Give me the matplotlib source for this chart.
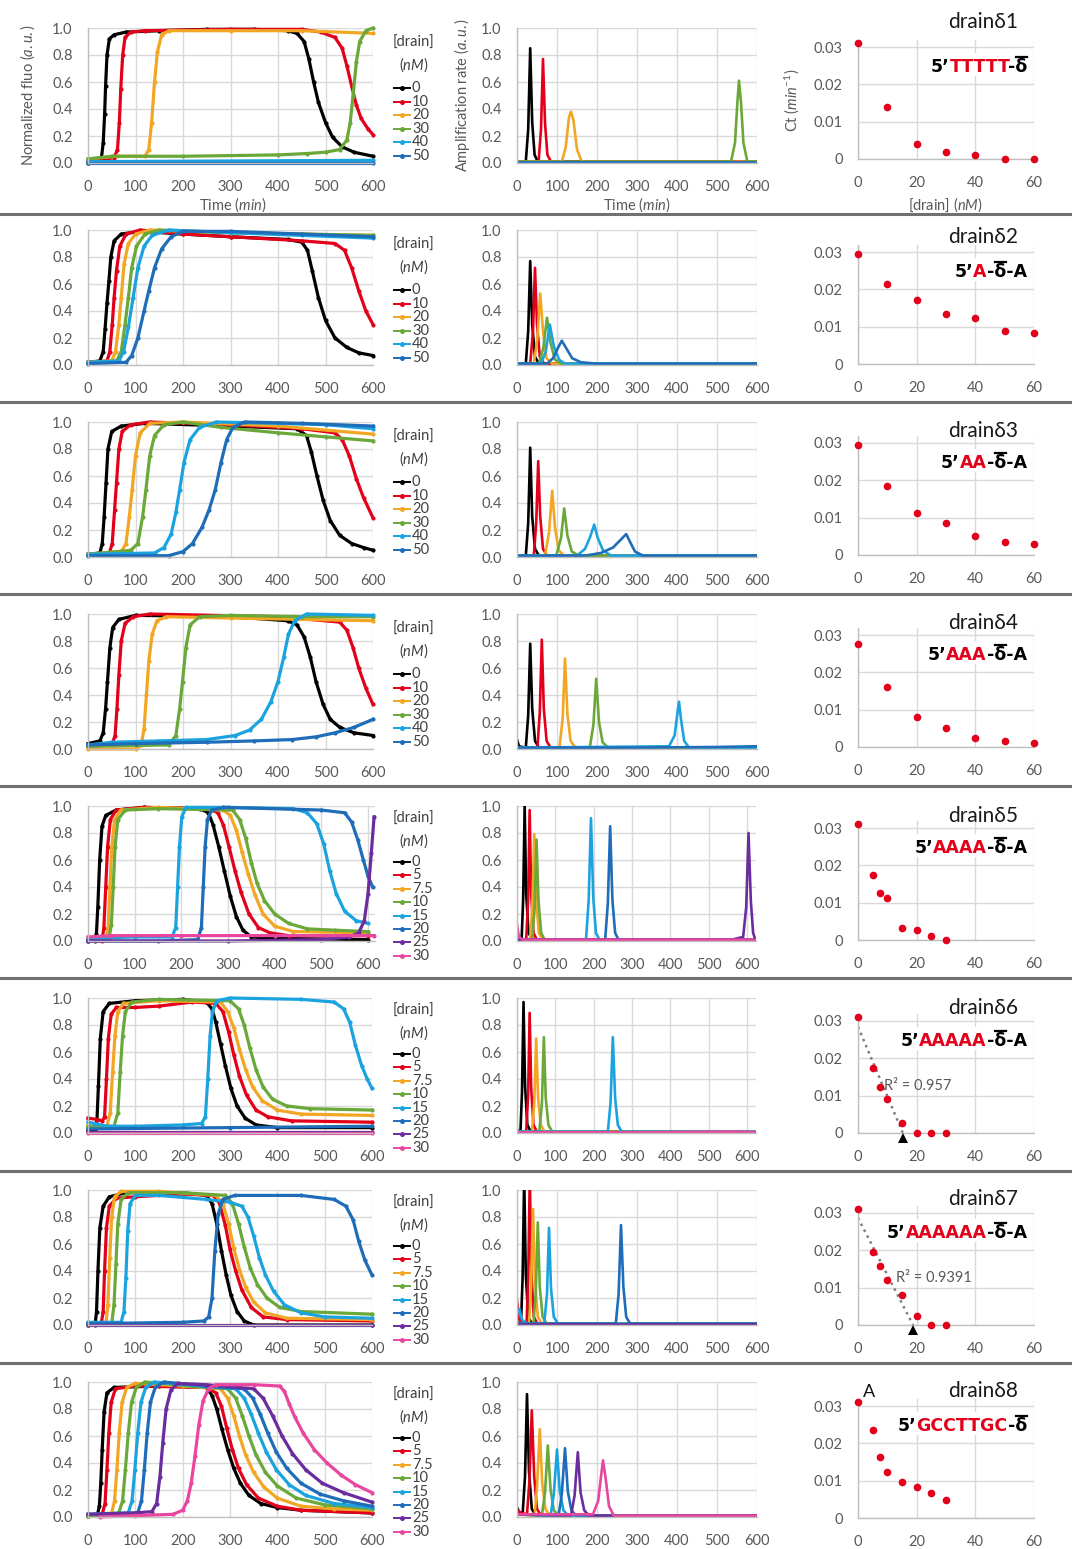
import numpy as np
import matplotlib
matplotlib.use('Agg')
import matplotlib.pyplot as plt
from matplotlib.lines import Line2D
from matplotlib.patches import Rectangle

plt.rcParams['font.family'] = ['Lato', 'DejaVu Sans']
plt.rcParams['mathtext.fontset'] = 'custom'
plt.rcParams['mathtext.rm'] = 'Lato'
plt.rcParams['mathtext.it'] = 'Lato:italic'

# ---------------- data ----------------
conc_6 = ['0', '10', '20', '30', '40', '50']
conc_8 = ['0', '5', '7.5', '10', '15', '20', '25', '30']
colors = ['#000000', '#E2001A', '#F2A623', '#6AA83A', '#1BA3E0', '#1F6DB8', '#6B2C9E', '#E9479F']

drain_names = ['drain\u03b41', 'drain\u03b42', 'drain\u03b43', 'drain\u03b44',
               'drain\u03b45', 'drain\u03b46', 'drain\u03b47', 'drain\u03b48']
# red part of each drain sequence, and whether it ends with "-A"
seq_red = ['TTTTT', 'A', 'AA', 'AAA', 'AAAA', 'AAAAA', 'AAAAAA', 'GCCTTGC']
seq_tail = [False, True, True, True, True, True, True, False]

# normalized fluorescence curves, (time, value) per concentration
fluo_d1 = [
    [(0, 0.0), (20, 0.01), (28, 0.03), (32, 0.15), (35, 0.36), (37, 0.57), (40, 0.8), (45, 0.92), (55, 0.95), (80, 0.97),
     (150, 0.98), (250, 0.99), (350, 0.99), (420, 0.98), (440, 0.96), (455, 0.9), (465, 0.77), (475, 0.6), (485, 0.45),
     (500, 0.3), (515, 0.19), (535, 0.12), (560, 0.08), (600, 0.05)],
    [(0, 0.02), (40, 0.03), (55, 0.04), (62, 0.1), (66, 0.3), (69, 0.55), (73, 0.8), (78, 0.93), (90, 0.97), (120, 0.98),
     (300, 0.99), (450, 0.99), (490, 0.97), (520, 0.93), (535, 0.85), (545, 0.72), (555, 0.57), (565, 0.43), (575, 0.33),
     (590, 0.25), (600, 0.21)],
    [(0, 0.03), (60, 0.05), (120, 0.05), (128, 0.1), (134, 0.3), (140, 0.6), (146, 0.82), (155, 0.95), (170, 0.98),
     (300, 0.98), (450, 0.98), (600, 0.96)],
    [(0, 0.03), (50, 0.05), (200, 0.05), (400, 0.06), (460, 0.07), (500, 0.08), (530, 0.1), (545, 0.17), (552, 0.3),
     (558, 0.5), (565, 0.75), (572, 0.9), (585, 0.98), (600, 1.0)],
    [(0, 0.01), (600, 0.02)],
    [(0, 0.0), (600, 0.0)],
]
fluo_d2 = [
    [(0, 0.02), (25, 0.03), (32, 0.1), (36, 0.27), (40, 0.46), (44, 0.62), (48, 0.8), (55, 0.92), (70, 0.97), (110, 0.99),
     (200, 0.97), (300, 0.95), (420, 0.93), (450, 0.91), (462, 0.85), (472, 0.7), (485, 0.5), (500, 0.33), (520, 0.2),
     (545, 0.13), (570, 0.09), (600, 0.07)],
    [(0, 0.02), (40, 0.03), (46, 0.1), (51, 0.3), (55, 0.5), (60, 0.7), (67, 0.88), (80, 0.97), (110, 1.0), (200, 0.97),
     (300, 0.95), (450, 0.92), (520, 0.9), (540, 0.85), (555, 0.72), (570, 0.55), (585, 0.4), (600, 0.3)],
    [(0, 0.02), (50, 0.03), (58, 0.1), (65, 0.3), (70, 0.5), (76, 0.75), (85, 0.9), (100, 0.97), (130, 1.0), (300, 0.98),
     (600, 0.96)],
    [(0, 0.02), (60, 0.03), (70, 0.1), (78, 0.3), (85, 0.5), (92, 0.72), (102, 0.88), (120, 0.97), (150, 1.0), (300, 0.98),
     (600, 0.96)],
    [(0, 0.02), (65, 0.03), (75, 0.1), (85, 0.28), (95, 0.5), (105, 0.72), (118, 0.88), (135, 0.96), (170, 1.0),
     (300, 0.98), (450, 0.96), (600, 0.94)],
    [(0, 0.01), (80, 0.02), (92, 0.07), (105, 0.2), (118, 0.4), (128, 0.55), (140, 0.72), (155, 0.86), (175, 0.95),
     (200, 0.99), (300, 0.99), (450, 0.97), (600, 0.95)],
]
fluo_d3 = [
    [(0, 0.02), (25, 0.03), (30, 0.1), (34, 0.3), (38, 0.55), (42, 0.8), (50, 0.93), (70, 0.97), (120, 0.99), (300, 0.97),
     (440, 0.95), (460, 0.9), (470, 0.78), (482, 0.6), (495, 0.42), (510, 0.27), (530, 0.16), (555, 0.1), (580, 0.07),
     (600, 0.05)],
    [(0, 0.02), (45, 0.03), (51, 0.1), (56, 0.35), (60, 0.55), (65, 0.8), (72, 0.93), (90, 0.98), (130, 1.0), (300, 0.98),
     (450, 0.95), (520, 0.92), (535, 0.87), (550, 0.75), (565, 0.58), (580, 0.44), (600, 0.29)],
    [(0, 0.02), (70, 0.04), (80, 0.1), (87, 0.3), (93, 0.5), (100, 0.75), (110, 0.92), (130, 0.99), (200, 1.0),
     (400, 0.97), (600, 0.91)],
    [(0, 0.02), (90, 0.05), (105, 0.1), (115, 0.3), (122, 0.5), (130, 0.75), (140, 0.9), (160, 0.98), (200, 1.0),
     (280, 0.96), (400, 0.92), (500, 0.89), (600, 0.86)],
    [(0, 0.02), (140, 0.03), (160, 0.07), (175, 0.17), (185, 0.33), (193, 0.5), (202, 0.7), (215, 0.87), (235, 0.96),
     (270, 1.0), (400, 0.99), (500, 0.98), (600, 0.95)],
    [(0, 0.01), (170, 0.01), (200, 0.04), (220, 0.1), (240, 0.22), (255, 0.35), (268, 0.5), (280, 0.7), (292, 0.87),
     (305, 0.96), (330, 1.0), (450, 0.99), (600, 0.97)],
]
fluo_d4 = [
    [(0, 0.04), (25, 0.06), (32, 0.12), (37, 0.3), (41, 0.5), (46, 0.75), (52, 0.9), (65, 0.96), (100, 0.99), (300, 0.98),
     (420, 0.95), (440, 0.92), (455, 0.83), (468, 0.68), (480, 0.5), (495, 0.33), (510, 0.22), (530, 0.16), (560, 0.12),
     (600, 0.1)],
    [(0, 0.02), (50, 0.03), (57, 0.1), (61, 0.3), (65, 0.55), (70, 0.8), (78, 0.93), (95, 0.98), (130, 1.0), (400, 0.98),
     (530, 0.94), (545, 0.88), (558, 0.75), (570, 0.6), (585, 0.45), (600, 0.33)],
    [(0, 0.0), (100, 0.0), (112, 0.03), (118, 0.15), (123, 0.4), (128, 0.65), (135, 0.85), (145, 0.95), (165, 0.98),
     (300, 0.97), (600, 0.95)],
    [(0, 0.02), (170, 0.03), (185, 0.1), (193, 0.3), (199, 0.5), (206, 0.75), (215, 0.92), (235, 0.98), (300, 0.99),
     (450, 0.98), (600, 0.98)],
    [(0, 0.03), (50, 0.05), (150, 0.06), (250, 0.07), (310, 0.1), (340, 0.14), (365, 0.22), (385, 0.35), (400, 0.5),
     (412, 0.68), (422, 0.85), (435, 0.95), (460, 1.0), (600, 0.99)],
    [(0, 0.03), (100, 0.04), (250, 0.05), (350, 0.06), (430, 0.07), (480, 0.09), (520, 0.12), (560, 0.16), (600, 0.22)],
]
fluo_d5 = [
    [(0, 0.0), (15, 0.0), (18, 0.05), (21, 0.25), (25, 0.6), (30, 0.85), (38, 0.93), (60, 0.97), (120, 0.99), (240, 0.98),
     (258, 0.95), (268, 0.86), (280, 0.7), (292, 0.52), (305, 0.33), (318, 0.18), (332, 0.08), (350, 0.03), (400, 0.02),
     (600, 0.01)],
    [(0, 0.0), (30, 0.0), (34, 0.1), (38, 0.4), (42, 0.7), (48, 0.9), (60, 0.97), (120, 0.99), (260, 0.98), (278, 0.95),
     (290, 0.86), (302, 0.7), (315, 0.52), (328, 0.36), (345, 0.2), (365, 0.1), (390, 0.06), (430, 0.04), (600, 0.04)],
    [(0, 0.0), (38, 0.01), (43, 0.1), (47, 0.4), (51, 0.7), (57, 0.9), (70, 0.97), (150, 0.99), (290, 0.97), (305, 0.93),
     (318, 0.82), (330, 0.66), (343, 0.5), (358, 0.34), (375, 0.2), (400, 0.11), (440, 0.07), (600, 0.06)],
    [(0, 0.0), (45, 0.02), (50, 0.12), (54, 0.4), (58, 0.7), (64, 0.9), (80, 0.97), (150, 0.98), (310, 0.97), (325, 0.9),
     (338, 0.76), (350, 0.58), (362, 0.43), (378, 0.3), (400, 0.2), (430, 0.13), (470, 0.09), (530, 0.08), (600, 0.07)],
    [(0, 0.02), (100, 0.03), (180, 0.03), (188, 0.1), (192, 0.4), (196, 0.7), (201, 0.92), (210, 0.99), (300, 0.99),
     (440, 0.98), (470, 0.95), (490, 0.87), (505, 0.72), (518, 0.52), (532, 0.35), (550, 0.22), (575, 0.15), (600, 0.13)],
    [(0, 0.0), (150, 0.0), (235, 0.01), (243, 0.1), (247, 0.4), (251, 0.7), (256, 0.9), (265, 0.97), (290, 0.99),
     (500, 0.97), (550, 0.95), (565, 0.88), (578, 0.75), (590, 0.6), (600, 0.48), (610, 0.4)],
    [(0, 0.0), (300, 0.0), (500, 0.01), (560, 0.03), (580, 0.06), (592, 0.15), (600, 0.35), (607, 0.65), (613, 0.92)],
    [(0, 0.03), (50, 0.04), (200, 0.04), (400, 0.04), (613, 0.04)],
]
fluo_d6 = [
    [(0, 0.02), (15, 0.02), (19, 0.1), (22, 0.35), (26, 0.7), (32, 0.9), (45, 0.96), (100, 0.98), (200, 0.99), (250, 0.97),
     (262, 0.92), (270, 0.82), (280, 0.66), (290, 0.5), (302, 0.33), (315, 0.2), (332, 0.11), (355, 0.06), (400, 0.04),
     (600, 0.04)],
    [(0, 0.11), (20, 0.1), (30, 0.09), (35, 0.12), (39, 0.4), (43, 0.7), (49, 0.88), (60, 0.93), (100, 0.93), (150, 0.94),
     (220, 0.97), (270, 0.96), (285, 0.9), (297, 0.75), (308, 0.58), (320, 0.42), (335, 0.28), (355, 0.17), (380, 0.12),
     (430, 0.09), (600, 0.08)],
    [(0, 0.05), (40, 0.05), (47, 0.15), (52, 0.45), (57, 0.72), (63, 0.9), (75, 0.96), (150, 0.98), (280, 0.97),
     (295, 0.9), (308, 0.78), (320, 0.62), (333, 0.47), (348, 0.34), (368, 0.24), (400, 0.17), (450, 0.14), (600, 0.13)],
    [(0, 0.05), (55, 0.05), (63, 0.15), (68, 0.45), (73, 0.72), (79, 0.9), (92, 0.97), (150, 0.99), (300, 0.98),
     (318, 0.92), (330, 0.8), (342, 0.63), (355, 0.47), (370, 0.34), (390, 0.25), (420, 0.2), (470, 0.18), (600, 0.17)],
    [(0, 0.08), (15, 0.07), (40, 0.05), (100, 0.05), (200, 0.06), (240, 0.07), (248, 0.12), (253, 0.4), (258, 0.72),
     (263, 0.9), (272, 0.98), (300, 1.0), (450, 0.99), (520, 0.97), (540, 0.92), (553, 0.82), (565, 0.65), (578, 0.5),
     (590, 0.4), (600, 0.33)],
    [(0, 0.03), (300, 0.04), (600, 0.05)],
    [(0, 0.01), (600, 0.01)],
    [(0, 0.0), (600, 0.0)],
]
fluo_d7 = [
    [(0, 0.0), (15, 0.0), (18, 0.1), (21, 0.4), (25, 0.72), (32, 0.88), (45, 0.95), (80, 0.98), (200, 0.98), (250, 0.96),
     (262, 0.9), (272, 0.75), (282, 0.55), (292, 0.37), (302, 0.22), (315, 0.1), (330, 0.03), (350, 0.0), (600, 0.0)],
    [(0, 0.0), (28, 0.01), (32, 0.1), (35, 0.4), (39, 0.72), (45, 0.88), (60, 0.94), (100, 0.95), (200, 0.97), (265, 0.96),
     (278, 0.9), (290, 0.74), (300, 0.56), (312, 0.4), (325, 0.26), (345, 0.13), (370, 0.06), (420, 0.04), (600, 0.03)],
    [(0, 0.0), (38, 0.01), (42, 0.15), (46, 0.5), (50, 0.8), (56, 0.95), (70, 0.99), (150, 0.99), (270, 0.96), (285, 0.9),
     (297, 0.75), (308, 0.57), (320, 0.41), (333, 0.28), (350, 0.17), (375, 0.09), (420, 0.05), (600, 0.04)],
    [(0, 0.0), (50, 0.01), (55, 0.15), (59, 0.45), (63, 0.75), (70, 0.93), (85, 0.98), (200, 0.98), (290, 0.96),
     (305, 0.9), (318, 0.75), (330, 0.58), (343, 0.42), (358, 0.3), (378, 0.2), (405, 0.13), (450, 0.1), (600, 0.08)],
    [(0, 0.02), (70, 0.02), (76, 0.1), (80, 0.35), (84, 0.7), (89, 0.9), (100, 0.96), (150, 0.96), (250, 0.93),
     (300, 0.91), (325, 0.88), (338, 0.8), (350, 0.66), (362, 0.5), (375, 0.37), (392, 0.25), (415, 0.15), (450, 0.09),
     (500, 0.06), (600, 0.05)],
    [(0, 0.01), (200, 0.02), (245, 0.03), (255, 0.06), (262, 0.2), (268, 0.55), (275, 0.82), (285, 0.93), (310, 0.96),
     (450, 0.96), (520, 0.93), (545, 0.88), (560, 0.78), (572, 0.62), (585, 0.48), (600, 0.37)],
    [(0, 0.0), (600, 0.0)],
    [],
]
fluo_d8 = [
    [(0, 0.01), (20, 0.02), (24, 0.08), (27, 0.25), (30, 0.5), (34, 0.78), (40, 0.92), (55, 0.96), (150, 0.97),
     (250, 0.96), (262, 0.9), (272, 0.8), (283, 0.65), (295, 0.5), (308, 0.36), (322, 0.25), (340, 0.16), (365, 0.1),
     (400, 0.07), (450, 0.05), (600, 0.03)],
    [(0, 0.01), (30, 0.02), (36, 0.1), (40, 0.35), (44, 0.62), (49, 0.85), (58, 0.95), (100, 0.97), (250, 0.96),
     (270, 0.92), (282, 0.82), (293, 0.66), (305, 0.5), (318, 0.36), (335, 0.24), (360, 0.14), (400, 0.08), (450, 0.05),
     (600, 0.03)],
    [(0, 0.01), (50, 0.03), (56, 0.12), (61, 0.35), (66, 0.62), (72, 0.85), (82, 0.96), (100, 0.99), (200, 0.97),
     (280, 0.95), (295, 0.88), (308, 0.75), (320, 0.6), (333, 0.46), (350, 0.33), (372, 0.22), (400, 0.14), (450, 0.08),
     (520, 0.06), (600, 0.05)],
    [(0, 0.01), (65, 0.03), (73, 0.12), (79, 0.35), (85, 0.62), (92, 0.85), (102, 0.96), (120, 1.0), (220, 0.97),
     (295, 0.95), (312, 0.88), (326, 0.75), (340, 0.6), (355, 0.46), (375, 0.33), (400, 0.23), (440, 0.14), (500, 0.09),
     (600, 0.06)],
    [(0, 0.02), (85, 0.03), (93, 0.12), (99, 0.35), (105, 0.62), (112, 0.85), (122, 0.96), (140, 1.0), (240, 0.97),
     (312, 0.95), (330, 0.88), (345, 0.76), (360, 0.62), (377, 0.48), (398, 0.35), (425, 0.24), (460, 0.16), (520, 0.1),
     (600, 0.07)],
    [(0, 0.02), (105, 0.03), (113, 0.12), (119, 0.35), (125, 0.62), (132, 0.85), (142, 0.96), (160, 1.0), (250, 0.97),
     (330, 0.95), (348, 0.88), (364, 0.76), (380, 0.62), (398, 0.48), (420, 0.36), (450, 0.25), (490, 0.17), (540, 0.12),
     (600, 0.08)],
    [(0, 0.02), (100, 0.03), (135, 0.04), (145, 0.1), (152, 0.3), (158, 0.55), (165, 0.8), (175, 0.94), (190, 0.99),
     (250, 0.98), (350, 0.95), (370, 0.88), (390, 0.75), (410, 0.6), (432, 0.47), (460, 0.35), (495, 0.25), (540, 0.18),
     (600, 0.11)],
    [(25, 0.0), (100, 0.01), (180, 0.02), (200, 0.05), (210, 0.12), (218, 0.25), (226, 0.45), (234, 0.68), (243, 0.86),
     (255, 0.95), (270, 0.98), (350, 0.98), (405, 0.97), (415, 0.93), (425, 0.84), (437, 0.74), (455, 0.62), (478, 0.5),
     (505, 0.4), (535, 0.31), (565, 0.24), (600, 0.18)],
]

# amplification rate curves, (time, value) per concentration
rate_d1 = [
    [(0, 0.01), (22, 0.01), (28, 0.25), (33, 0.85), (38, 0.3), (44, 0.06), (52, 0.01), (600, 0.01)],
    [(0, 0.01), (54, 0.01), (60, 0.25), (65, 0.77), (70, 0.3), (76, 0.06), (85, 0.01), (600, 0.01)],
    [(0, 0.01), (112, 0.01), (122, 0.12), (130, 0.34), (135, 0.38), (141, 0.32), (150, 0.1), (162, 0.01), (600, 0.01)],
    [(0, 0.01), (535, 0.01), (545, 0.15), (551, 0.45), (555, 0.61), (560, 0.45), (566, 0.15), (576, 0.01), (600, 0.01)],
    [(0, 0.005), (600, 0.005)],
    [(0, 0.005), (600, 0.005)],
]
rate_d2 = [
    [(0, 0.01), (22, 0.01), (28, 0.25), (33, 0.77), (38, 0.3), (45, 0.06), (55, 0.01), (600, 0.01)],
    [(0, 0.01), (33, 0.01), (40, 0.25), (45, 0.72), (50, 0.3), (57, 0.06), (68, 0.01), (600, 0.01)],
    [(0, 0.01), (42, 0.01), (51, 0.2), (58, 0.53), (65, 0.25), (74, 0.05), (88, 0.01), (600, 0.01)],
    [(0, 0.01), (55, 0.01), (66, 0.13), (75, 0.35), (84, 0.16), (95, 0.04), (110, 0.01), (600, 0.01)],
    [(0, 0.01), (60, 0.01), (72, 0.1), (82, 0.3), (92, 0.14), (105, 0.04), (120, 0.01), (600, 0.01)],
    [(0, 0.01), (75, 0.01), (90, 0.05), (103, 0.13), (112, 0.18), (122, 0.13), (138, 0.05), (160, 0.02), (200, 0.01),
     (600, 0.01)],
]
rate_d3 = [
    [(0, 0.01), (22, 0.01), (28, 0.25), (33, 0.81), (38, 0.3), (45, 0.06), (55, 0.01), (600, 0.01)],
    [(0, 0.01), (42, 0.01), (48, 0.25), (53, 0.71), (58, 0.3), (65, 0.06), (75, 0.01), (600, 0.01)],
    [(0, 0.01), (70, 0.01), (80, 0.18), (88, 0.49), (95, 0.22), (104, 0.05), (118, 0.01), (600, 0.01)],
    [(0, 0.01), (98, 0.01), (110, 0.14), (118, 0.36), (126, 0.16), (137, 0.04), (155, 0.01), (600, 0.01)],
    [(0, 0.01), (150, 0.01), (170, 0.06), (183, 0.15), (193, 0.24), (202, 0.14), (215, 0.05), (235, 0.01), (600, 0.01)],
    [(0, 0.01), (170, 0.01), (210, 0.03), (240, 0.07), (260, 0.13), (273, 0.17), (283, 0.11), (295, 0.04), (315, 0.01),
     (600, 0.01)],
]
rate_d4 = [
    [(0, 0.07), (5, 0.02), (22, 0.01), (28, 0.25), (33, 0.78), (38, 0.3), (45, 0.06), (55, 0.01), (600, 0.01)],
    [(0, 0.01), (51, 0.01), (57, 0.27), (62, 0.81), (67, 0.3), (74, 0.06), (84, 0.01), (600, 0.01)],
    [(0, 0.01), (106, 0.01), (114, 0.22), (120, 0.67), (126, 0.26), (134, 0.06), (146, 0.01), (600, 0.01)],
    [(0, 0.01), (182, 0.01), (191, 0.18), (198, 0.52), (205, 0.2), (214, 0.05), (228, 0.01), (600, 0.01)],
    [(0, 0.01), (380, 0.02), (394, 0.1), (400, 0.24), (405, 0.35), (410, 0.22), (418, 0.06), (430, 0.01), (600, 0.01)],
    [(0, 0.01), (300, 0.01), (500, 0.015), (600, 0.02)],
]
rate_d5 = [
    [(0, 0.02), (12, 0.01), (16, 0.3), (20, 1.0), (24, 0.35), (30, 0.06), (40, 0.01), (620, 0.01)],
    [(0, 0.01), (24, 0.01), (29, 0.3), (33, 0.97), (37, 0.35), (43, 0.06), (52, 0.01), (620, 0.01)],
    [(0, 0.01), (34, 0.01), (40, 0.25), (45, 0.79), (50, 0.3), (57, 0.06), (66, 0.01), (620, 0.01)],
    [(0, 0.01), (40, 0.01), (46, 0.25), (51, 0.75), (56, 0.3), (63, 0.06), (72, 0.01), (620, 0.01)],
    [(0, 0.01), (180, 0.01), (187, 0.3), (193, 0.91), (199, 0.32), (206, 0.06), (215, 0.01), (620, 0.01)],
    [(0, 0.01), (230, 0.01), (237, 0.28), (243, 0.85), (249, 0.3), (256, 0.06), (265, 0.01), (620, 0.01)],
    [(0, 0.01), (560, 0.01), (590, 0.03), (598, 0.25), (604, 0.8), (610, 0.3), (616, 0.06), (622, 0.01)],
    [(0, 0.12), (5, 0.03), (15, 0.01), (620, 0.01)],
]
rate_d6 = [
    [(0, 0.02), (9, 0.01), (13, 0.3), (17, 0.97), (21, 0.35), (27, 0.06), (36, 0.01), (620, 0.01)],
    [(0, 0.01), (24, 0.01), (29, 0.28), (33, 0.89), (37, 0.33), (43, 0.06), (52, 0.01), (620, 0.01)],
    [(0, 0.01), (39, 0.01), (45, 0.22), (50, 0.7), (55, 0.26), (62, 0.06), (72, 0.01), (620, 0.01)],
    [(0, 0.01), (58, 0.01), (65, 0.22), (70, 0.71), (75, 0.26), (82, 0.06), (92, 0.01), (620, 0.01)],
    [(0, 0.01), (237, 0.01), (244, 0.22), (250, 0.71), (256, 0.26), (263, 0.06), (273, 0.01), (620, 0.01)],
    [(0, 0.01), (620, 0.01)],
    [(0, 0.005), (620, 0.005)],
    [(0, 0.005), (300, 0.005), (580, 0.01), (620, 0.005)],
]
rate_d7 = [
    [(0, 0.02), (10, 0.01), (14, 0.35), (18, 1.1), (22, 0.38), (28, 0.06), (37, 0.01), (600, 0.01)],
    [(0, 0.18), (4, 0.05), (10, 0.02), (24, 0.01), (28, 0.35), (32, 1.1), (36, 0.38), (42, 0.06), (51, 0.01), (600, 0.01)],
    [(0, 0.01), (30, 0.01), (35, 0.28), (40, 0.86), (45, 0.32), (52, 0.06), (62, 0.01), (600, 0.01)],
    [(0, 0.01), (41, 0.01), (47, 0.24), (52, 0.76), (57, 0.28), (64, 0.06), (74, 0.01), (600, 0.01)],
    [(0, 0.08), (6, 0.12), (12, 0.04), (25, 0.01), (68, 0.01), (75, 0.23), (80, 0.72), (85, 0.27), (92, 0.06), (102, 0.01),
     (600, 0.01)],
    [(0, 0.01), (247, 0.01), (254, 0.23), (260, 0.74), (266, 0.28), (273, 0.06), (283, 0.01), (600, 0.01)],
    [(0, 0.005), (600, 0.005)],
    [],
]
rate_d8 = [
    [(0, 0.07), (5, 0.04), (14, 0.02), (20, 0.3), (25, 0.91), (30, 0.34), (37, 0.06), (47, 0.01), (600, 0.01)],
    [(0, 0.05), (10, 0.03), (25, 0.02), (31, 0.26), (37, 0.79), (43, 0.3), (50, 0.06), (60, 0.01), (600, 0.01)],
    [(0, 0.02), (44, 0.01), (50, 0.22), (57, 0.65), (63, 0.25), (71, 0.06), (82, 0.01), (600, 0.01)],
    [(0, 0.02), (62, 0.01), (70, 0.18), (77, 0.53), (84, 0.2), (92, 0.05), (104, 0.01), (600, 0.01)],
    [(0, 0.02), (84, 0.01), (92, 0.17), (100, 0.5), (107, 0.19), (116, 0.05), (128, 0.01), (600, 0.01)],
    [(0, 0.02), (104, 0.01), (112, 0.17), (120, 0.51), (127, 0.19), (136, 0.05), (148, 0.01), (600, 0.01)],
    [(0, 0.02), (135, 0.01), (144, 0.16), (152, 0.48), (159, 0.18), (168, 0.05), (180, 0.01), (600, 0.01)],
    [(0, 0.02), (190, 0.02), (203, 0.12), (210, 0.3), (215, 0.42), (221, 0.3), (230, 0.08), (242, 0.01), (600, 0.01)],
]

# Ct vs [drain]
ct_x_6 = [0, 10, 20, 30, 40, 50, 60]
ct_x_8 = [0, 5, 7.5, 10, 15, 20, 25, 30]
ct_d1 = [0.031, 0.014, 0.004, 0.0018, 0.001, 0.0, 0.0]
ct_d2 = [0.0295, 0.0215, 0.0172, 0.0133, 0.0122, 0.0088, 0.0083]
ct_d3 = [0.0295, 0.0185, 0.0112, 0.0085, 0.0051, 0.0035, 0.003]
ct_d4 = [0.0277, 0.016, 0.008, 0.005, 0.0023, 0.0015, 0.001]
ct_d5 = [0.031, 0.0175, 0.0125, 0.0113, 0.0033, 0.0027, 0.0012, 0.0]
ct_d6 = [0.031, 0.0175, 0.0122, 0.009, 0.0028, 0.0, 0.0, 0.0]
ct_d7 = [0.031, 0.0195, 0.0157, 0.012, 0.008, 0.0025, 0.0, 0.0]
ct_d8 = [0.031, 0.0235, 0.0163, 0.0122, 0.0097, 0.0083, 0.0066, 0.0047]
# linear fits shown on drainδ6 / drainδ7 (first five points): R² text and where it starts
fit_rows = {5: ('0.957', 9.0), 6: ('0.9391', 12.8)}

fluo = [fluo_d1, fluo_d2, fluo_d3, fluo_d4, fluo_d5, fluo_d6, fluo_d7, fluo_d8]
rate = [rate_d1, rate_d2, rate_d3, rate_d4, rate_d5, rate_d6, rate_d7, rate_d8]
ct = [ct_d1, ct_d2, ct_d3, ct_d4, ct_d5, ct_d6, ct_d7, ct_d8]

# ---------------- layout (pixels) ----------------
W, H = 1072, 1549
row_top = [28, 230, 422, 614, 806, 998, 1190, 1382]
row_h = 135
c1_xmax = [600, 600, 600, 600, 615, 600, 600, 600]
c1_scale = [0.475, 0.475, 0.475, 0.475, 0.4667, 0.4733, 0.4733, 0.4733]
c2_xmax = [600, 600, 600, 600, 623, 623, 600, 600]
c2_scale = [0.4, 0.4, 0.4, 0.4, 0.3833, 0.3833, 0.4, 0.4]
c3_zero = [159, 364, 555, 747, 940, 1133, 1325, 1518]
title_y = [22, 237, 431, 623, 816, 1008, 1199, 1391]
seps = [214, 402, 594, 786, 978, 1171, 1363]

grid_c = '#D9D9D9'
tick_c = '#595959'
dot_red = '#E2001A'
seq_font = dict(fontsize=12.5, fontweight='bold', family='DejaVu Sans')


def fx(x):
    return x / W


def fy(y):
    return 1 - y / H


def style(ax, xt, yt, ylabels):
    for s in ['top', 'right']:
        ax.spines[s].set_visible(False)
    for s in ['left', 'bottom']:
        ax.spines[s].set_color('#BFBFBF')
        ax.spines[s].set_linewidth(1.0)
    ax.set_xticks(xt)
    ax.set_yticks(yt)
    ax.set_yticklabels(ylabels)
    ax.grid(True, color=grid_c, lw=1.0)
    ax.set_axisbelow(True)
    ax.tick_params(length=0, labelsize=10.5, colors=tick_c)
    ax.tick_params(axis='x', pad=12)
    ax.tick_params(axis='y', pad=11)


fig = plt.figure(figsize=(W / 100, H / 100), dpi=100)
renderer = fig.canvas.get_renderer()


def text_w(s):
    t = fig.text(0, 0, s, **seq_font)
    w = t.get_window_extent(renderer=renderer).width
    t.remove()
    return w


def seq_label(x_right, y_base, red, tail):
    # black "5’", red bases, black "-δ̄(-A)", measured so the pieces join like one string
    pre = '5\u2019'
    rest = '-\u03b4' + ('-A' if tail else '')
    x0 = x_right - text_w(pre + red + rest)
    # one white box behind the whole label (it hides gridlines like in the original)
    fig.add_artist(Rectangle((fx(x0 - 3), fy(y_base + 4)), (x_right - x0 + 6) / W, 23 / H,
                             transform=fig.transFigure, fc='white', ec='none', zorder=2.5))
    fig.text(fx(x0), fy(y_base), pre, ha='left', va='baseline', color='black', zorder=3, **seq_font)
    red_left = x0 + text_w(pre + red) - text_w(red)
    fig.text(fx(red_left), fy(y_base), red, ha='left', va='baseline', color=dot_red, zorder=3, **seq_font)
    fig.text(fx(x_right), fy(y_base), rest, ha='right', va='baseline', color='black', zorder=3, **seq_font)
    d_right = x0 + text_w(pre + red + '-\u03b4')
    d_left = d_right - text_w('\u03b4')
    yb = fy(y_base - 15.5)
    fig.add_artist(Line2D([fx(d_left + 0.5), fx(d_right - 0.5)], [yb, yb], color='black', lw=1.6, zorder=5))


for i in range(8):
    top = row_top[i]
    labels = conc_6 if i < 4 else conc_8

    # column 1: normalized fluorescence
    w1 = c1_xmax[i] * c1_scale[i]
    ax1 = fig.add_axes([fx(88), fy(top + row_h), w1 / W, row_h / H])
    for k, pts in enumerate(fluo[i]):
        if not pts:
            continue
        t, v = zip(*pts)
        ax1.plot(t, v, color=colors[k], lw=2.3, marker='o', ms=3, mew=0, clip_on=False, zorder=2 + k * 0.01)
    ax1.set_xlim(0, c1_xmax[i])
    ax1.set_ylim(0, 1.0)
    style(ax1, range(0, 601, 100), np.arange(0, 1.01, 0.2), ['%.1f' % v for v in np.arange(0, 1.01, 0.2)])

    # column 2: amplification rate
    w2 = c2_xmax[i] * c2_scale[i]
    ax2 = fig.add_axes([fx(517), fy(top + row_h), w2 / W, row_h / H])
    for k, pts in enumerate(rate[i]):
        if not pts:
            continue
        t, v = zip(*pts)
        ax2.plot(t, v, color=colors[k], lw=1.9, solid_joinstyle='round')
    ax2.set_xlim(0, c2_xmax[i])
    ax2.set_ylim(0, 1.0)
    style(ax2, range(0, 601, 100), np.arange(0, 1.01, 0.2), ['%.1f' % v for v in np.arange(0, 1.01, 0.2)])

    # column 3: Ct
    z = c3_zero[i]
    h3 = 112 / 0.03 * 0.032
    ax3 = fig.add_axes([fx(858), fy(z), 176 / W, h3 / H])
    xs = ct_x_6 if i < 4 else ct_x_8
    ax3.plot(xs, ct[i], 'o', color=dot_red, ms=5.5, mew=0, clip_on=False, zorder=3)
    ax3.set_xlim(0, 60)
    ax3.set_ylim(0, 0.032)
    style(ax3, [0, 20, 40, 60], [0, 0.01, 0.02, 0.03], ['0', '0.01', '0.02', '0.03'])
    if i in fit_rows:
        m, b = np.polyfit(xs[:5], ct[i][:5], 1)
        x0 = -b / m
        ax3.plot([0, x0], [b, 0], ls=':', color='#7F7F7F', lw=1.8, zorder=2)
        ax3.plot([x0], [-0.0013], marker='^', color='black', ms=7.5, mew=0, clip_on=False, zorder=5)
        r2, rx = fit_rows[i]
        ax3.text(rx, 0.0125, 'R\u00b2 = ' + r2, fontsize=10.5, color=tick_c, va='center', ha='left')
    if i == 7:
        ax3.text(1.6, 0.0338, 'A', fontsize=13, color='#111111', va='center', ha='left')

    # legend of column 1
    lead = 15 if i < 4 else 13
    fig.text(fx(414), fy(top + lead), '[drain]', ha='center', va='center', fontsize=10.5, color='#404040')
    fig.text(fx(414), fy(top + lead + 22), '($\\mathit{nM}$)', ha='center', va='center', fontsize=10.5, color='#404040')
    first = top + (60 if i < 4 else 56)
    step = 13.6 if i < 4 else 13.4
    for k, lab in enumerate(labels):
        yy = fy(first + k * step)
        fig.add_artist(Line2D([fx(394), fx(402), fx(410)], [yy, yy, yy], color=colors[k], lw=1.4,
                              marker='o', ms=3.6, mew=0, markevery=[1]))
        fig.text(fx(412), yy, lab, ha='left', va='center', fontsize=10.5, color='#404040')

    # drain name and sequence
    fig.text(fx(983), fy(title_y[i]), drain_names[i], ha='center', va='center', fontsize=15, color='#1a1a1a')
    seq_label(1027, z - 112 + 25, seq_red[i], seq_tail[i])

# axis titles (first row only)
fig.text(fx(28), fy(95), 'Normalized fluo ($\\mathit{a.u.}$)', rotation=90, ha='center', va='center',
         fontsize=10.5, color=tick_c)
fig.text(fx(462), fy(95), 'Amplification rate ($\\mathit{a.u.}$)', rotation=90, ha='center', va='center',
         fontsize=10.5, color=tick_c)
fig.text(fx(792), fy(100), 'Ct ($\\mathit{min}^{-1}$)', rotation=90, ha='center', va='center',
         fontsize=10.5, color=tick_c)
fig.text(fx(233), fy(205), 'Time ($\\mathit{min}$)', ha='center', va='center', fontsize=10.5, color=tick_c)
fig.text(fx(637), fy(205), 'Time ($\\mathit{min}$)', ha='center', va='center', fontsize=10.5, color=tick_c)
fig.text(fx(945), fy(205), '[drain] ($\\mathit{nM}$)', ha='center', va='center', fontsize=10.5, color=tick_c)

# row separators
for y in seps:
    fig.add_artist(Line2D([0, 1], [fy(y), fy(y)], color='#707070', lw=2.2))

fig.savefig('out.png', dpi=100)
